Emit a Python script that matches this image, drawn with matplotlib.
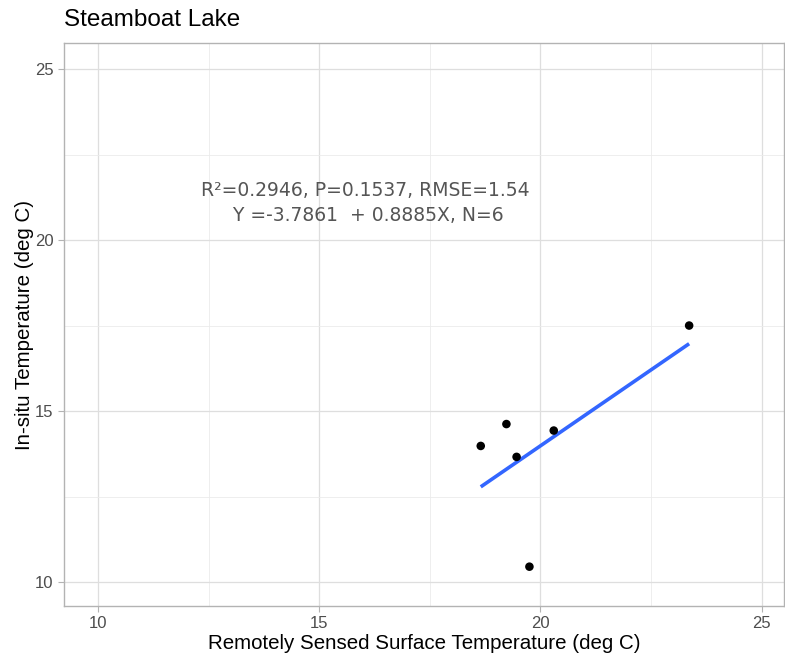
import matplotlib
matplotlib.use("Agg")
import matplotlib.pyplot as plt
import numpy as np

plt.rcParams["font.family"] = ["Liberation Sans", "DejaVu Sans"]

# Lake observations: satellite surface temperature vs. in-situ temperature
remote_temp = [18.65, 19.23, 19.46, 19.75, 20.30, 23.36]
insitu_temp = [13.98, 14.62, 13.66, 10.45, 14.43, 17.50]

intercept = -3.7861
slope = 0.8885
stats_text = "R²=0.2946, P=0.1537, RMSE=1.54\n Y =-3.7861  + 0.8885X, N=6"

x_ticks = [10, 15, 20, 25]
y_ticks = [10, 15, 20, 25]

fig = plt.figure(figsize=(7.85, 6.6), dpi=100)
ax = fig.add_axes([0.0815, 0.0818, 0.9170, 0.8530])

ax.set_xlim(9.23, 25.5)
ax.set_ylim(9.3, 25.76)

ax.set_xticks(x_ticks)
ax.set_yticks(y_ticks)
ax.set_xticks([12.5, 17.5, 22.5], minor=True)
ax.set_yticks([12.5, 17.5, 22.5], minor=True)
ax.grid(which="major", color="#dedede", linewidth=0.9)
ax.grid(which="minor", color="#ebebeb", linewidth=0.6)
ax.set_axisbelow(True)

for s in ax.spines.values():
    s.set_color("#b3b3b3")
    s.set_linewidth(1.0)

ax.tick_params(axis="both", which="major", colors="#b3b3b3", labelcolor="#4d4d4d",
               labelsize=12, length=4, width=0.8)
ax.tick_params(axis="both", which="minor", length=0)

# fitted line over the observed range
xf = np.array([min(remote_temp), max(remote_temp)])
ax.plot(xf, intercept + slope * xf, color="#3366ff", linewidth=2.6, solid_capstyle="butt", zorder=2)
ax.scatter(remote_temp, insitu_temp, s=38, color="black", zorder=3, edgecolors="none")

ax.text(16.05, 21.08, stats_text, ha="center", va="center", fontsize=13.5,
        color="#555555", family=["DejaVu Sans"], linespacing=1.45)

ax.set_xlabel("Remotely Sensed Surface Temperature (deg C)", fontsize=14.8, color="black", labelpad=2)
ax.set_ylabel("In-situ Temperature (deg C)", fontsize=14.8, color="black", labelpad=1)
fig.text(0.0815, 0.970, "Steamboat Lake", fontsize=17.5, color="black", ha="left", va="center")

fig.savefig("out.png", dpi=100)
